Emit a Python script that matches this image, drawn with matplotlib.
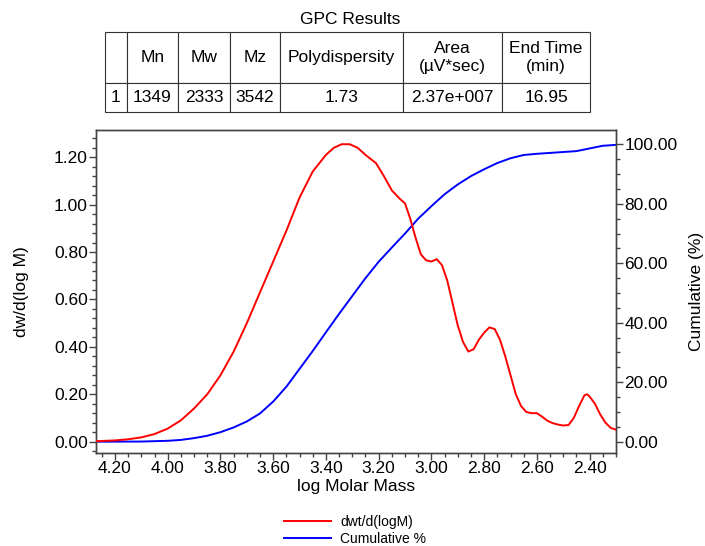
import numpy as np
import matplotlib
matplotlib.use("Agg")
import matplotlib.pyplot as plt
from matplotlib.ticker import MultipleLocator, FormatStrFormatter
from matplotlib.lines import Line2D

plt.rcParams['font.family'] = ['Liberation Sans', 'DejaVu Sans']

# GPC result table
col_labels = ["", "Mn", "Mw", "Mz", "Polydispersity", "Area\n(\u00b5V*sec)", "End Time\n(min)"]
row_values = ["1", "1349", "2333", "3542", "1.73", "2.37e+007", "16.95"]

# dw/d(logM) distribution
log_m = [4.27, 4.20, 4.15, 4.10, 4.05, 4.00, 3.95, 3.90, 3.85, 3.80, 3.75, 3.70, 3.65,
         3.60, 3.55, 3.50, 3.45, 3.40, 3.37, 3.34, 3.31, 3.28, 3.25, 3.21, 3.18, 3.15,
         3.12, 3.10, 3.08, 3.06, 3.04, 3.02, 3.00, 2.98, 2.96, 2.94, 2.92, 2.90, 2.88,
         2.86, 2.84, 2.82, 2.80, 2.78, 2.76, 2.74, 2.72, 2.70, 2.68, 2.66, 2.64, 2.62,
         2.60, 2.58, 2.56, 2.54, 2.52, 2.50, 2.48, 2.46, 2.44, 2.42, 2.41, 2.40, 2.38,
         2.36, 2.34, 2.32, 2.30]
dwdlogm = [0.002, 0.005, 0.01, 0.018, 0.032, 0.055, 0.09, 0.14, 0.20, 0.28, 0.38, 0.50, 0.63,
           0.76, 0.89, 1.03, 1.14, 1.21, 1.24, 1.255, 1.255, 1.24, 1.21, 1.175, 1.12, 1.06,
           1.025, 1.005, 0.94, 0.86, 0.79, 0.765, 0.76, 0.77, 0.745, 0.68, 0.585, 0.49, 0.42,
           0.38, 0.39, 0.43, 0.46, 0.482, 0.475, 0.43, 0.36, 0.28, 0.20, 0.15, 0.125, 0.12,
           0.12, 0.105, 0.088, 0.078, 0.072, 0.068, 0.07, 0.10, 0.15, 0.195, 0.20, 0.19, 0.16,
           0.115, 0.08, 0.058, 0.05]

# cumulative %
cum_x = [4.27, 4.10, 4.00, 3.95, 3.90, 3.85, 3.80, 3.75, 3.70, 3.65, 3.60, 3.55, 3.50,
         3.45, 3.40, 3.35, 3.30, 3.25, 3.20, 3.15, 3.10, 3.05, 3.00, 2.95, 2.90, 2.85,
         2.80, 2.75, 2.70, 2.65, 2.60, 2.55, 2.50, 2.45, 2.40, 2.35, 2.30]
cum_pct = [0.0, 0.05, 0.3, 0.6, 1.2, 2.0, 3.2, 4.8, 6.8, 9.5, 13.5, 18.5, 24.5,
           30.5, 36.8, 43.0, 49.0, 55.0, 60.5, 65.3, 70.0, 75.0, 79.2, 83.2, 86.5, 89.3,
           91.6, 93.7, 95.3, 96.4, 96.8, 97.1, 97.4, 97.7, 98.6, 99.5, 99.8]

fig = plt.figure(figsize=(7.05, 5.46), dpi=100)
W, H = 705.0, 546.0

# table
fig.text(350 / W, 1 - 20 / H, "GPC Results", ha='center', va='center', fontsize=12.5)
tab_ax = fig.add_axes([105 / W, 1 - 112 / H, 485 / W, 80 / H])
tab_ax.axis('off')
col_w = np.array([22, 51, 52, 50, 123, 99, 88], dtype=float)
tbl = tab_ax.table(cellText=[col_labels, row_values], cellLoc='center',
                   colWidths=list(col_w / col_w.sum()), bbox=[0, 0, 1, 1])
tbl.auto_set_font_size(False)
tbl.set_fontsize(12.5)
for (r, c), cell in tbl.get_celld().items():
    cell.set_edgecolor('#333333')
    cell.set_linewidth(0.8)
    cell.set_height(51 / 80 if r == 0 else 29 / 80)
    cell.get_text().set_linespacing(1.3)

# main plot
ax = fig.add_axes([96 / W, 1 - 453 / H, 520 / W, 323 / H])
ax2 = ax.twinx()

ax.plot(log_m, dwdlogm, color='#ff0000', lw=1.4, zorder=3)
ax2.plot(cum_x, cum_pct, color='#0000ff', lw=1.4)
ax.set_zorder(ax2.get_zorder() + 1)
ax.patch.set_visible(False)

ax.set_xlim(4.272, 2.30)
ax.set_ylim(-0.048, 1.315)
ax2.set_ylim(-3.8, 104.8)

ax.xaxis.set_major_locator(MultipleLocator(0.2))
ax.xaxis.set_minor_locator(MultipleLocator(0.05))
ax.xaxis.set_major_formatter(FormatStrFormatter('%.2f'))
ax.yaxis.set_major_locator(MultipleLocator(0.2))
ax.yaxis.set_minor_locator(MultipleLocator(0.04))
ax.yaxis.set_major_formatter(FormatStrFormatter('%.2f'))
ax2.yaxis.set_major_locator(MultipleLocator(20))
ax2.yaxis.set_minor_locator(MultipleLocator(5))
ax2.yaxis.set_major_formatter(FormatStrFormatter('%.2f'))

for a in (ax, ax2):
    a.tick_params(which='major', length=5, width=1, color='#444444', labelsize=12.5, pad=1)
    a.tick_params(which='minor', length=3, width=1, color='#444444')
    for s in a.spines.values():
        s.set_color('#444444')
        s.set_linewidth(1)

ax.set_xlabel("log Molar Mass", fontsize=12.5, labelpad=2)
ax.set_ylabel("dw/d(log M)", fontsize=12.5, labelpad=18)
ax2.set_ylabel("Cumulative (%)", fontsize=12.5, labelpad=8)

handles = [Line2D([], [], color='#ff0000', lw=1.4), Line2D([], [], color='#0000ff', lw=1.4)]
fig.legend(handles, ["dwt/d(logM)", "Cumulative %"], loc='upper center',
           bbox_to_anchor=(355 / W, 1 - 508 / H), frameon=False, fontsize=10,
           handlelength=3.4, handletextpad=0.7, labelspacing=0.2, borderpad=0)

fig.savefig("out.png", dpi=100)
